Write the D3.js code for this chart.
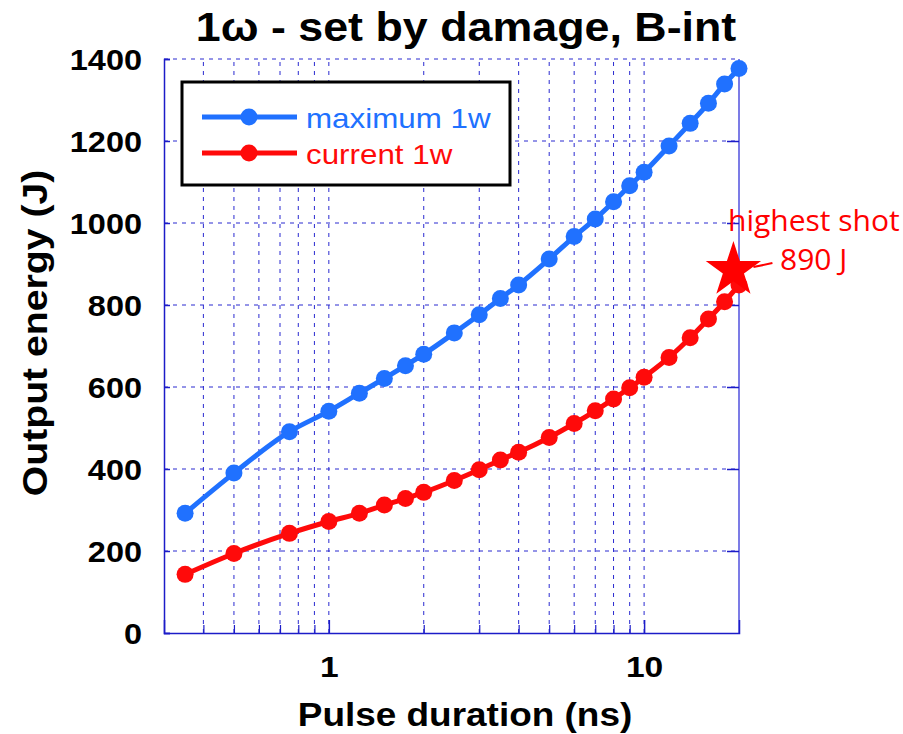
<!DOCTYPE html>
<html>
<head>
<meta charset="utf-8">
<script src="https://cdn.jsdelivr.net/npm/d3@7"></script>
<style>
  html, body { margin: 0; padding: 0; background: #fff; }
  svg { display: block; font-family: "Liberation Sans", Arial, sans-serif; }
</style>
</head>
<body>
<div id="chart"></div>
<script>
// pulse durations (ns) and energies (J)
const durations = [0.35, 0.5, 0.75, 1, 1.25, 1.5, 1.75, 2, 2.5, 3, 3.5, 4, 5, 6, 7, 8, 9, 10, 12, 14, 16, 18, 20];
const maxEnergy = [292, 390, 491, 541, 585, 621, 652, 680, 732, 776, 816, 849, 912, 967, 1010, 1052, 1091, 1124, 1188, 1243, 1292, 1339, 1377];
const currentEnergy = [143, 194, 243, 272, 292, 312, 328, 343, 372, 398, 422, 441, 477, 511, 542, 571, 598, 624, 672, 720, 766, 808, 849];
const seriesNames = ["maximum 1w", "current 1w"];
const seriesColors = ["#2071ff", "#ff0a0a"];
const highestShot = { t: 19.2, e: 890, label: ["highest shot", "890 J"] };
const xTicks = [1, 10];
const xGrid = [0.4, 0.5, 0.6, 0.7, 0.8, 0.9, 1, 2, 3, 4, 5, 6, 7, 8, 9, 10];
const yTicks = [0, 200, 400, 600, 800, 1000, 1200, 1400];

const W = 903, H = 734;
const M = { top: 59, right: 164, bottom: 101, left: 164 };
const SX = 1.12; // picture text looks stretched sideways

const svg = d3.select("#chart").append("svg").attr("width", W).attr("height", H);

const x = d3.scaleLog().domain([0.3, 20]).range([M.left, W - M.right]);
const y = d3.scaleLinear().domain([0, 1400]).range([H - M.bottom, M.top]);
const gridCol = "#2a2ad0";

// grid
svg.append("g").selectAll("line").data(xGrid).join("line")
  .attr("x1", (d) => x(d)).attr("x2", (d) => x(d))
  .attr("y1", y(0)).attr("y2", y(1400))
  .attr("stroke", gridCol).attr("stroke-width", 1).attr("stroke-dasharray", "4,5");
svg.append("g").selectAll("line").data(yTicks.slice(1)).join("line")
  .attr("x1", x(0.3)).attr("x2", x(20))
  .attr("y1", (d) => y(d)).attr("y2", (d) => y(d))
  .attr("stroke", gridCol).attr("stroke-width", 1).attr("stroke-dasharray", "4,5");

// frame
svg.append("line").attr("x1", x(20)).attr("x2", x(20)).attr("y1", y(0)).attr("y2", y(1400))
  .attr("stroke", "#7c7ce6").attr("stroke-width", 2);

const yAxis = svg.append("g").attr("transform", `translate(${M.left},0)`)
  .call(d3.axisLeft(y).tickValues(yTicks).tickSize(-6).tickPadding(22).tickFormat(d3.format("d")));
yAxis.select(".domain").attr("stroke", "#1c1cc8").attr("stroke-width", 1.5);
yAxis.selectAll(".tick line").attr("stroke", "#1c1cc8").attr("stroke-width", 1.5);
yAxis.selectAll(".tick text").attr("fill", "#000").style("font-size", "29px").style("font-weight", "bold")
  .attr("transform", `scale(${SX},1)`).attr("x", -22 / SX).attr("dy", "0.36em");

const yRight = svg.append("g").attr("transform", `translate(${x(20)},0)`)
  .call(d3.axisRight(y).tickValues(yTicks.slice(1, -1)).tickSize(-12).tickFormat(""));
yRight.select(".domain").remove();
yRight.selectAll(".tick line").attr("stroke", "#1c1cc8").attr("stroke-width", 1.5);

const xMinor = svg.append("g").attr("transform", `translate(0,${y(0)})`)
  .call(d3.axisBottom(x).tickValues(xGrid.filter((d) => !xTicks.includes(d))).tickSize(-8).tickFormat(""));
xMinor.select(".domain").remove();
xMinor.selectAll(".tick line").attr("stroke", "#1c1cc8").attr("stroke-width", 1.2);

const xAxis = svg.append("g").attr("transform", `translate(0,${y(0)})`)
  .call(d3.axisBottom(x).tickValues(xTicks).tickSize(-13).tickPadding(24).tickFormat(d3.format("d")));
xAxis.select(".domain").attr("stroke", "#1c1cc8").attr("stroke-width", 1.5);
xAxis.selectAll(".tick line").attr("stroke", "#1c1cc8").attr("stroke-width", 1.5);
xAxis.selectAll(".tick text").attr("fill", "#000").style("font-size", "30px").style("font-weight", "bold")
  .attr("transform", `scale(${SX},1)`).attr("y", 23).attr("dy", "0.71em");

// axis titles
function label(txt, px, py, size, weight, fill, rot) {
  const g = svg.append("g").attr("transform", `translate(${px},${py})` + (rot ? ` rotate(${rot})` : ""));
  return g.append("text").attr("transform", `scale(${SX},1)`).attr("text-anchor", "middle")
    .style("font-size", size + "px").style("font-weight", weight).attr("fill", fill).text(txt);
}
label("1ω - set by damage, B-int", 466, 41, 40, "bold", "#000");
label("Pulse duration (ns)", 465, 726, 33, "bold", "#000");
label("Output energy (J)", 47, 333, 35, "bold", "#000", -90);

// series
const rows = [maxEnergy, currentEnergy];
const line = d3.line().x((d) => x(d[0])).y((d) => y(d[1])).curve(d3.curveMonotoneX);
rows.forEach((vals, i) => {
  const pts = durations.map((t, k) => [t, vals[k]]);
  const g = svg.append("g");
  g.append("path").datum(pts).attr("d", line).attr("fill", "none")
    .attr("stroke", seriesColors[i]).attr("stroke-width", 5).attr("stroke-linejoin", "round");
  g.selectAll("circle").data(pts).join("circle")
    .attr("cx", (d) => x(d[0])).attr("cy", (d) => y(d[1])).attr("r", 8.5).attr("fill", seriesColors[i]);
});

// highest shot
const sx = x(highestShot.t), sy = y(highestShot.e);
svg.append("path").attr("d", d3.symbol(d3.symbolStar, 950)()).attr("transform", `translate(${sx},${sy + 2})`)
  .attr("fill", "#ff0000");
svg.append("line").attr("x1", sx + 20).attr("y1", sy - 1).attr("x2", sx + 39).attr("y2", sy - 5)
  .attr("stroke", "#ff0000").attr("stroke-width", 2);
svg.append("text").attr("x", 728).attr("y", 231).attr("fill", "#ff0000")
  .style("font-family", "'Open Sans', sans-serif").style("font-size", "30px").text(highestShot.label[0]);
svg.append("text").attr("x", 780).attr("y", 270).attr("fill", "#ff0000")
  .style("font-family", "'Open Sans', sans-serif").style("font-size", "30px").text(highestShot.label[1]);

// legend
const lg = svg.append("g");
lg.append("rect").attr("x", 182).attr("y", 82).attr("width", 328).attr("height", 103)
  .attr("fill", "#fff").attr("stroke", "#000").attr("stroke-width", 3);
seriesNames.forEach((n, i) => {
  const ly = 117 + i * 36;
  lg.append("line").attr("x1", 202).attr("x2", 297).attr("y1", ly).attr("y2", ly)
    .attr("stroke", seriesColors[i]).attr("stroke-width", 5);
  lg.append("circle").attr("cx", 249).attr("cy", ly).attr("r", 8.5).attr("fill", seriesColors[i]);
  lg.append("text").attr("transform", `translate(306,${ly + 11}) scale(${SX},1)`)
    .style("font-size", "28px").attr("fill", seriesColors[i]).text(n);
});
</script>
</body>
</html>
